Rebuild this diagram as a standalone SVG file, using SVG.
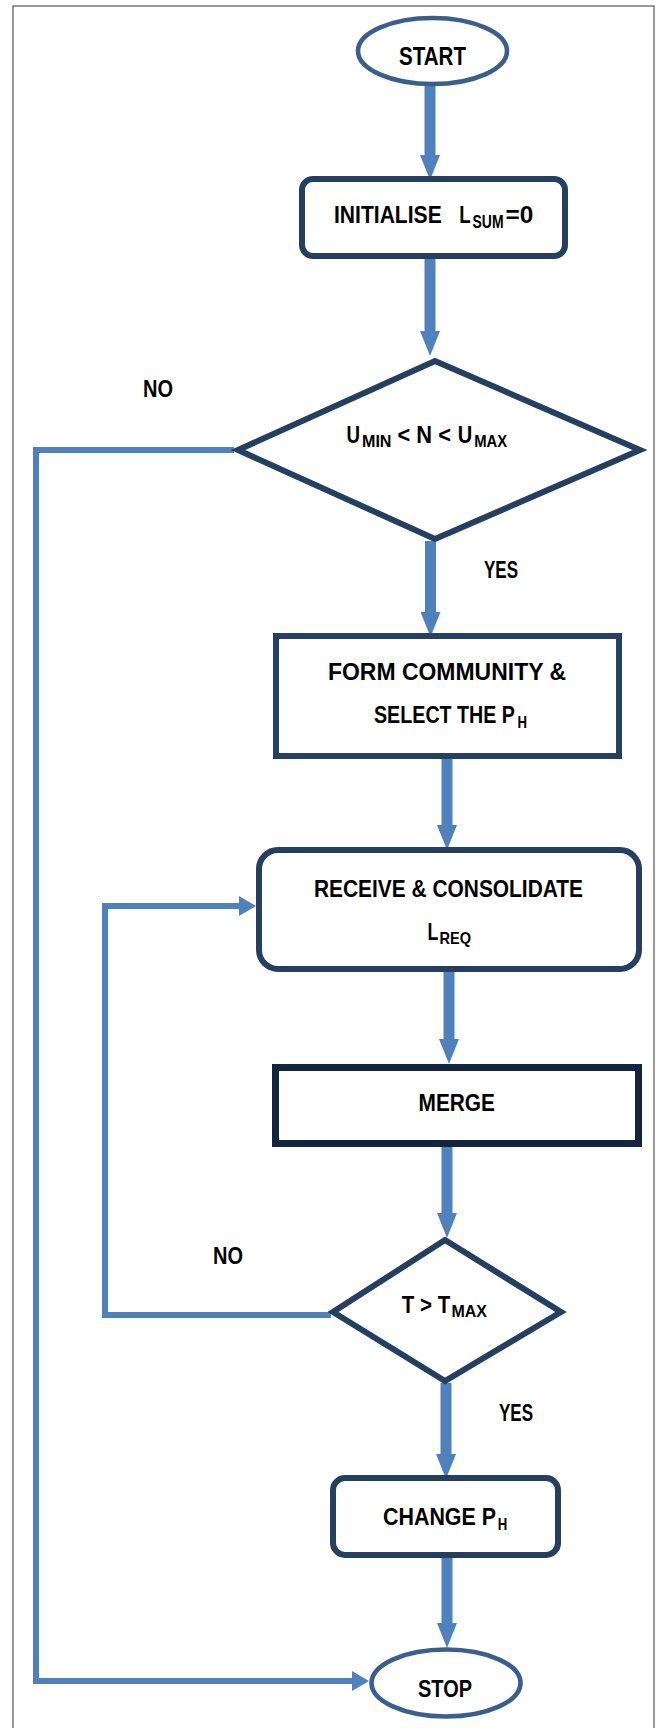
<svg xmlns="http://www.w3.org/2000/svg" width="658" height="1728" viewBox="0 0 658 1728">
<style>
.bg{fill:#fff}
.frame{fill:none;stroke:#555;stroke-width:1.2}
.ell{fill:#fff;stroke:#3a5f8c;stroke-width:4.6}
.box{fill:#fff;stroke:#243f60;stroke-width:6}
.box2{fill:#fff;stroke:#13243e;stroke-width:7}
.dia{fill:#fff;stroke:#243f60;stroke-width:6;stroke-linejoin:miter}
.arrow{fill:none;stroke:#4f81bd;stroke-width:11}
.link{fill:none;stroke:#4f81bd;stroke-width:6;stroke-linejoin:miter}
.t{font-family:"Liberation Sans",Arial,sans-serif;font-weight:bold;font-size:24px;fill:#000}
.s{font-size:17px}
</style>
<defs>
<marker id="head" markerUnits="userSpaceOnUse" markerWidth="25" markerHeight="20" refX="0" refY="10" orient="auto">
<path d="M0,0 L25,10 L0,20 z" fill="#4f81bd"/>
</marker>
<marker id="headS" markerUnits="userSpaceOnUse" markerWidth="17" markerHeight="20" refX="0" refY="10" orient="auto">
<path d="M0,0 L17,10 L0,20 z" fill="#4f81bd"/>
</marker>
</defs>
<rect class="bg" x="0" y="0" width="658" height="1728"/>
<rect class="frame" x="13" y="6" width="641" height="1730"/>

<g id="connectors">
<path class="arrow" d="M430,86 V155" marker-end="url(#head)"/>
<path class="arrow" d="M430,259 V331" marker-end="url(#head)"/>
<path class="arrow" d="M430.5,541 V612" marker-end="url(#head)"/>
<path class="arrow" d="M447,759 V825" marker-end="url(#head)"/>
<path class="arrow" d="M449,972 V1039" marker-end="url(#head)"/>
<path class="arrow" d="M447,1147 V1213" marker-end="url(#head)"/>
<path class="arrow" d="M446,1383 V1454" marker-end="url(#head)"/>
<path class="arrow" d="M447,1558 V1623" marker-end="url(#head)"/>
<path class="link" d="M234,450 H36 V1681 H352" marker-end="url(#headS)"/>
<path class="link" d="M331,1315 H105 V906 H239" marker-end="url(#headS)"/>
<text class="t" x="143" y="396.7" textLength="30" lengthAdjust="spacingAndGlyphs">NO</text>
<text class="t" x="484" y="578" textLength="34" lengthAdjust="spacingAndGlyphs">YES</text>
<text class="t" x="213" y="1264" textLength="30" lengthAdjust="spacingAndGlyphs">NO</text>
<text class="t" x="499" y="1421" textLength="34" lengthAdjust="spacingAndGlyphs">YES</text>
</g>

<g id="start">
<ellipse class="ell" cx="432.5" cy="51" rx="74.5" ry="33"/>
<text class="t" x="399" y="65" style="font-size:25px" textLength="67" lengthAdjust="spacingAndGlyphs">START</text>
</g>

<g id="initialise">
<rect class="box" x="302" y="179" width="263" height="77" rx="11"/>
<text class="t" y="222.7"><tspan x="334" textLength="107.7" lengthAdjust="spacingAndGlyphs">INITIALISE</tspan>   <tspan x="459.3" textLength="11.4" lengthAdjust="spacingAndGlyphs">L</tspan><tspan class="s" x="472.5" y="227.5" style="font-size:18px" textLength="31" lengthAdjust="spacingAndGlyphs">SUM</tspan><tspan x="505.5" y="222.7" textLength="27.8" lengthAdjust="spacingAndGlyphs">=0</tspan></text>
</g>

<g id="check-users">
<path class="dia" d="M435,361 L640,450 L435,539 L238,450 Z"/>
<text class="t" y="443.3"><tspan x="346.6" textLength="13.5" lengthAdjust="spacingAndGlyphs">U</tspan><tspan class="s" x="362" y="447.3" textLength="29.5" lengthAdjust="spacingAndGlyphs">MIN</tspan> <tspan x="397.5" y="443.3" textLength="53.5" lengthAdjust="spacingAndGlyphs">&lt; N &lt;</tspan> <tspan x="457.8" textLength="14.5" lengthAdjust="spacingAndGlyphs">U</tspan><tspan class="s" x="474.2" y="447.3" textLength="33" lengthAdjust="spacingAndGlyphs">MAX</tspan></text>
</g>

<g id="form-community">
<rect class="box" x="276" y="636" width="343" height="120"/>
<text class="t" x="328" y="680" textLength="238" lengthAdjust="spacingAndGlyphs">FORM COMMUNITY &amp;</text>
<text class="t" y="723.3"><tspan x="374" textLength="141" lengthAdjust="spacingAndGlyphs">SELECT THE P</tspan><tspan class="s" x="517.5" y="728.3" textLength="9.5" lengthAdjust="spacingAndGlyphs">H</tspan></text>
</g>

<g id="receive">
<rect class="box" x="259" y="850" width="380" height="119" rx="19"/>
<text class="t" x="314" y="897" textLength="269" lengthAdjust="spacingAndGlyphs">RECEIVE &amp; CONSOLIDATE</text>
<text class="t" y="940"><tspan x="427.4" textLength="10.8" lengthAdjust="spacingAndGlyphs">L</tspan><tspan class="s" x="439.5" y="944" textLength="31.5" lengthAdjust="spacingAndGlyphs">REQ</tspan></text>
</g>

<g id="merge">
<rect class="box2" x="275.5" y="1067.5" width="363" height="76"/>
<text class="t" x="418.5" y="1111" textLength="76.5" lengthAdjust="spacingAndGlyphs">MERGE</text>
</g>

<g id="check-time">
<path class="dia" d="M445,1240 L561,1312 L445,1381 L333,1312 Z"/>
<text class="t" y="1313.3" style="font-size:23px"><tspan x="401.7" textLength="48.5" lengthAdjust="spacingAndGlyphs">T &gt; T</tspan><tspan class="s" x="451.5" y="1317.3" textLength="35.5" lengthAdjust="spacingAndGlyphs">MAX</tspan></text>
</g>

<g id="change">
<rect class="box" x="333" y="1478" width="225" height="77" rx="12"/>
<text class="t" y="1525"><tspan x="383" textLength="113" lengthAdjust="spacingAndGlyphs">CHANGE P</tspan><tspan class="s" x="497.7" y="1530" textLength="9.5" lengthAdjust="spacingAndGlyphs">H</tspan></text>
</g>

<g id="stop">
<ellipse class="ell" cx="446" cy="1683" rx="74.5" ry="33.5"/>
<text class="t" x="418" y="1697" textLength="54" lengthAdjust="spacingAndGlyphs">STOP</text>
</g>
</svg>
